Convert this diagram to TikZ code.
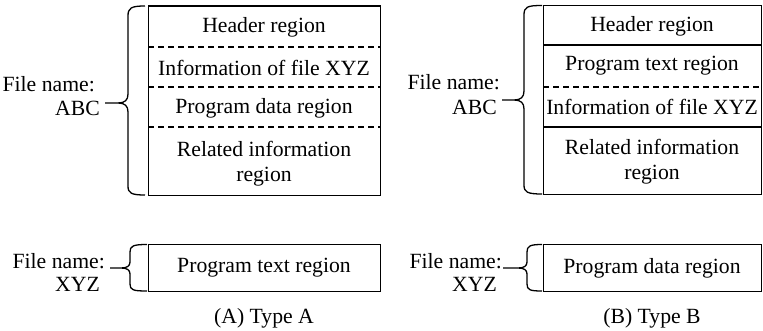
\documentclass[tikz,border=0pt]{standalone}
\usepackage{fontspec}
\setmainfont{Liberation Serif}
\begin{document}
\begin{tikzpicture}[x=1pt,y=-1pt,
  frame/.style={draw,line width=1.3pt},
  solidsep/.style={line width=1.1pt},
  dashsep/.style={line width=1.1pt,dash pattern=on 6pt off 4pt},
  region/.style={font=\fontsize{21.7}{24}\selectfont,align=center,inner sep=0pt},
  fname/.style={font=\fontsize{21.7}{24}\selectfont,align=right,inner sep=0pt,anchor=east},
  caption/.style={font=\fontsize{21.7}{24}\selectfont,inner sep=0pt},
  bracepath/.style={line width=1.3pt,line join=round}]
\useasboundingbox (0,0) rectangle (763,331);

% ---------- Type A, file ABC ----------
\node[frame,minimum width=232pt,minimum height=189.5pt,anchor=north west,inner sep=0pt] (fa) at (148,5.5) {};
\coordinate (fa1) at (148,47);
\coordinate (fa2) at (148,87);
\coordinate (fa3) at (148,127);
\draw[dashsep] (fa1) -- (fa1 -| fa.east);
\draw[dashsep] (fa2) -- (fa2 -| fa.east);
\draw[dashsep] (fa3) -- (fa3 -| fa.east);
\node[region] (fah) at (264,27) {Header region};
\node[region] (fai) at (264,68) {Information of file XYZ};
\node[region] (fap) at (264,108) {Program data region};
\node[region] (far) at (264,164) {Related information\\[1pt]region};

\coordinate (ta) at (105,103);
\draw[bracepath] (145,6) .. controls (131,6) and (128,8) .. (128,16) -- (128,94)
  .. controls (128,100) and (125,103) .. (118,103) -- (ta)
  (118,103) .. controls (125,103) and (128,106) .. (128,112) -- (128,186)
  .. controls (128,193) and (131,195) .. (145,195);
\node[fname] (na1) at (95,84) {File name:};
\node[fname] (na2) at (100,108) {ABC};

% ---------- Type A, file XYZ ----------
\node[frame,minimum width=232pt,minimum height=47pt,anchor=north west,inner sep=0pt] (fx) at (148,244) {};
\node[region] (fxp) at (264,268) {Program text region};
\coordinate (tx) at (110,268);
\draw[bracepath] (147,244.5) .. controls (133,244.5) and (130,246) .. (130,252) -- (130,262)
  .. controls (130,266) and (127,268) .. (121,268) -- (tx)
  (121,268) .. controls (127,268) and (130,270) .. (130,274) -- (130,284)
  .. controls (130,290) and (133,291) .. (147,291);
\node[fname] (nx1) at (105,261) {File name:};
\node[fname] (nx2) at (100,284) {XYZ};

\node[caption] (capa) at (264,318) {(A) Type A};

% ---------- Type B, file ABC ----------
\node[frame,minimum width=218pt,minimum height=189pt,anchor=north west,inner sep=0pt] (fb) at (543,5) {};
\coordinate (fb1) at (543,45);
\coordinate (fb2) at (543,87);
\coordinate (fb3) at (543,127);
\draw[solidsep] (fb1) -- (fb1 -| fb.east);
\draw[dashsep] (fb2) -- (fb2 -| fb.east);
\draw[solidsep] (fb3) -- (fb3 -| fb.east);
\node[region] (fbh) at (652,26) {Header region};
\node[region] (fbp) at (652,66) {Program text region};
\node[region] (fbi) at (652,107) {Information of file XYZ};
\node[region] (fbr) at (652,162) {Related information\\[1pt]region};

\coordinate (tb) at (502,100);
\draw[bracepath] (542,5.5) .. controls (527,5.5) and (524,7) .. (524,15) -- (524,91)
  .. controls (524,97) and (521,100) .. (514,100) -- (tb)
  (514,100) .. controls (521,100) and (524,103) .. (524,109) -- (524,185)
  .. controls (524,192) and (527,194) .. (542,194);
\node[fname] (nb1) at (500,82) {File name:};
\node[fname] (nb2) at (497,107) {ABC};

% ---------- Type B, file XYZ ----------
\node[frame,minimum width=218pt,minimum height=47pt,anchor=north west,inner sep=0pt] (fy) at (543,244) {};
\node[region] (fyp) at (652,268) {Program data region};
\coordinate (ty) at (503,268);
\draw[bracepath] (542,244.5) .. controls (530,244.5) and (527,246) .. (527,252) -- (527,262)
  .. controls (527,266) and (524,268) .. (518,268) -- (ty)
  (518,268) .. controls (524,268) and (527,270) .. (527,274) -- (527,284)
  .. controls (527,290) and (530,291) .. (542,291);
\node[fname] (ny1) at (502,261) {File name:};
\node[fname] (ny2) at (497,284) {XYZ};

\node[caption] (capb) at (652,318) {(B) Type B};
\end{tikzpicture}
\end{document}
